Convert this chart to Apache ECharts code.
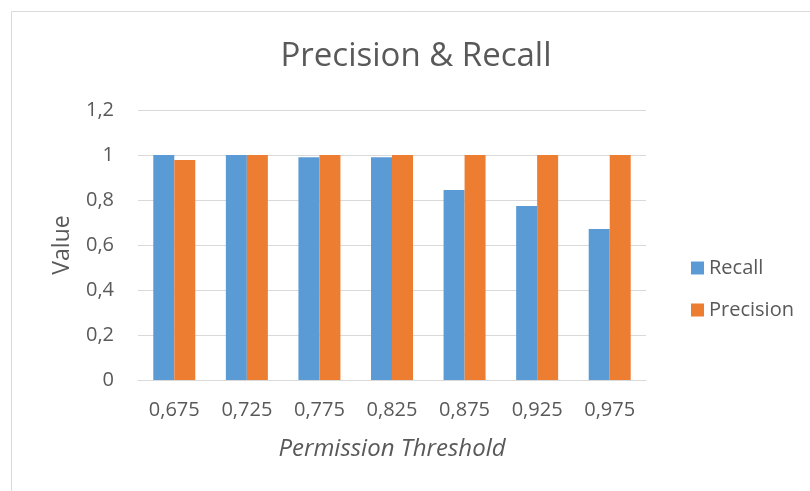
<!DOCTYPE html>
<html><head><meta charset="utf-8">
<script src="https://cdn.jsdelivr.net/npm/echarts@6/dist/echarts.min.js"></script>
<style>html,body{margin:0;padding:0;background:#fff}#c{width:810px;height:491px}</style>
</head><body><div id="c"></div>
<script>
var categories = ['0,675','0,725','0,775','0,825','0,875','0,925','0,975'];
var recall = [1.0, 1.0, 0.99, 0.99, 0.844, 0.773, 0.671];
var precision = [0.978, 1.0, 1.0, 1.0, 1.0, 1.0, 1.0];
var yTicks = [0, 0.2, 0.4, 0.6, 0.8, 1, 1.2];

var font = '"Open Sans", "Noto Sans", sans-serif';
var chart = echarts.init(document.getElementById('c'));
chart.setOption({
  animation: false,
  textStyle: {fontFamily: font},
  graphic: [{type:'rect', shape:{x:11.5,y:11.5,width:900,height:600}, style:{fill:'none', stroke:'#d9d9d9', lineWidth:1}, silent:true}],
  title: {text:'Precision & Recall', left:411, top:35, textAlign:'center',
    textStyle:{fontFamily:font, fontSize:33, fontWeight:'normal', color:'#595959'}},
  grid: {left:138, right:164, top:110, bottom:111, containLabel:false},
  legend: {orient:'vertical', left:686, top:253, itemWidth:13, itemHeight:13, itemGap:22,
    icon:'rect', textStyle:{fontFamily:font, fontSize:20, color:'#595959'},
    data:['Recall','Precision']},
  xAxis: {type:'category', data:categories,
    axisLine:{lineStyle:{color:'#d9d9d9', width:1}}, axisTick:{show:false},
    axisLabel:{color:'#595959', fontSize:20, margin:20, fontFamily:font},
    name:'Permission Threshold', nameLocation:'middle', nameGap:57,
    nameTextStyle:{fontStyle:'italic', fontSize:24, color:'#595959', fontFamily:font}},
  yAxis: {type:'value', min:0, max:1.2, interval:0.2,
    axisLine:{show:false}, axisTick:{show:false},
    splitLine:{lineStyle:{color:'#d9d9d9', width:1}},
    axisLabel:{color:'#595959', fontSize:20, margin:24, fontFamily:font,
      formatter:function(v){return String(Math.round(v*10)/10).replace('.',',');}},
    name:'Value', nameLocation:'middle', nameGap:64,
    nameTextStyle:{fontSize:23, color:'#595959', fontFamily:font}},
  series: [
    {name:'Recall', type:'bar', data:recall, barWidth:21, barGap:'0%', itemStyle:{color:'#5B9BD5'}},
    {name:'Precision', type:'bar', data:precision, barWidth:21, barGap:'0%', itemStyle:{color:'#ED7D31'}}
  ]
});
</script></body></html>
